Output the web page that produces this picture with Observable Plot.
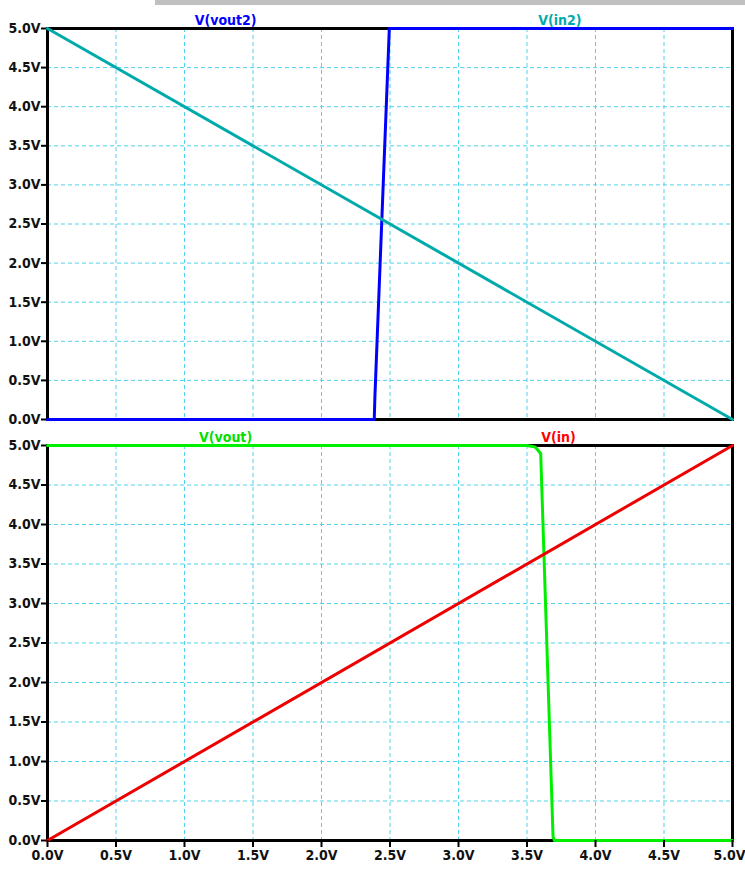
<!DOCTYPE html>
<html>
<head>
<meta charset="utf-8">
<script src="https://cdn.jsdelivr.net/npm/d3@7"></script>
<script src="https://cdn.jsdelivr.net/npm/@observablehq/plot@0.6"></script>
<style>
  html, body { margin: 0; padding: 0; background: #fff; }
  #page { position: relative; width: 745px; height: 869px; overflow: hidden; }
  #bar { position: absolute; left: 155px; top: 0; width: 590px; height: 5px; background: #c0c0c0; }
  .pane { display: block; }
  .pane svg text { font-stretch: condensed; }
</style>
</head>
<body>
<div id="page"><div id="bar"></div><div id="top" class="pane"></div><div id="bottom" class="pane"></div></div>
<script>
// DC sweep of the input source, 0 V .. 5 V
const ticks = [0, 0.5, 1, 1.5, 2, 2.5, 3, 3.5, 4, 4.5, 5];

// Upper pane: inverting stage
const in2X = [0, 5];
const in2Y = [5, 0];
const vout2X = [0, 2.385, 2.39, 2.495, 5];
const vout2Y = [0, 0, 0.3, 5, 5];

// Lower pane: non-inverting stage
const inX = [0, 5];
const inY = [0, 5];
const voutX = [0, 3.50, 3.56, 3.60, 3.69, 3.70, 5];
const voutY = [5, 5, 4.98, 4.9, 0.05, 0, 0];

// Trace labels placed over each pane
const labelTop = [{x: 1.30, text: "V(vout2)", color: "#0000ff"}, {x: 3.74, text: "V(in2)", color: "#00aaaa"}];
const labelBottom = [{x: 1.30, text: "V(vout)", color: "#00e000"}, {x: 3.73, text: "V(in)", color: "#ff0000"}];

const FONT = "'DejaVu Sans Condensed', 'DejaVu Sans', sans-serif";
const fmt = d => d.toFixed(1) + "V";
const toRows = (xs, ys) => xs.map((x, i) => ({x, y: ys[i]}));
const tickText = {fontSize: 14, fontWeight: "bold", fill: "#111"};

function pane({height, marginTop, marginBottom, traces, labels, xAxis}) {
  const marks = [
    Plot.gridX(ticks, {stroke: "#4fd2ee", strokeOpacity: 1, strokeWidth: 1, strokeDasharray: "4,3"}),
    Plot.gridY(ticks, {stroke: "#4fd2ee", strokeOpacity: 1, strokeWidth: 1, strokeDasharray: "4,3"}),
    Plot.frame({stroke: "#000", strokeWidth: 3}),
    Plot.axisY(ticks, {tickFormat: fmt, tickSize: 6, tickPadding: 1, strokeWidth: 2, stroke: "#000",
      ...tickText, label: null}),
    ...traces.map(t => Plot.line(toRows(t.x, t.y), {x: "x", y: "y", stroke: t.color, strokeWidth: 3, curve: "linear"})),
    Plot.text(labels, {x: "x", text: "text", fill: "color", frameAnchor: "top", dy: -13,
      fontSize: 14, fontWeight: "bold"})
  ];
  if (xAxis) {
    const inner = ticks.slice(0, -1);
    const last = ticks.slice(-1);
    marks.push(
      Plot.axisX(ticks, {tickFormat: () => "", tickSize: 7, strokeWidth: 2, stroke: "#000", label: null}),
      Plot.text(inner, {x: d => d, text: fmt, frameAnchor: "bottom", lineAnchor: "top", dy: 10, ...tickText}),
      Plot.text(last, {x: d => d, text: fmt, frameAnchor: "bottom", lineAnchor: "top", dy: 10, dx: -3, ...tickText})
    );
  }
  return Plot.plot({
    width: 745, height, marginTop, marginBottom, marginLeft: 47, marginRight: 13,
    style: {fontFamily: FONT, background: "transparent", overflow: "visible"},
    x: {domain: [0, 5], axis: null},
    y: {domain: [0, 5], axis: null},
    marks
  });
}

document.getElementById("top").append(pane({
  height: 432, marginTop: 28, marginBottom: 13, xAxis: false,
  traces: [{x: vout2X, y: vout2Y, color: "#0000ff"}, {x: in2X, y: in2Y, color: "#00aaaa"}],
  labels: labelTop
}));
document.getElementById("bottom").append(pane({
  height: 437, marginTop: 13, marginBottom: 29, xAxis: true,
  traces: [{x: voutX, y: voutY, color: "#00ee00"}, {x: inX, y: inY, color: "#ee0000"}],
  labels: labelBottom
}));
</script>
</body>
</html>
